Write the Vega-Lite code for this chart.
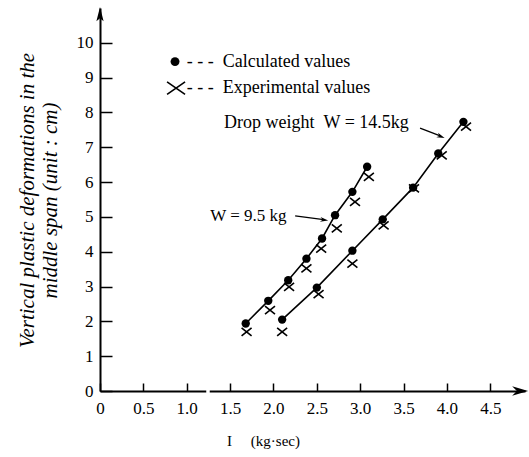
{
  "$schema": "https://vega.github.io/schema/vega-lite/v6.json",
  "width": 425,
  "height": 383,
  "autosize": {"type": "none"},
  "padding": {"left": 100, "top": 8, "right": 4, "bottom": 66},
  "background": "white",
  "config": {"view": {"stroke": null}, "font": "Liberation Serif", "axis": {"labelOverlap": false, "labelFlush": false}},
  "layer": [
    {
      "data": {
        "values": [
          {"I": 1.68, "d": 1.94, "W": "9.5", "type": "Calculated"},
          {"I": 1.94, "d": 2.59, "W": "9.5", "type": "Calculated"},
          {"I": 2.17, "d": 3.18, "W": "9.5", "type": "Calculated"},
          {"I": 2.38, "d": 3.80, "W": "9.5", "type": "Calculated"},
          {"I": 2.56, "d": 4.38, "W": "9.5", "type": "Calculated"},
          {"I": 2.71, "d": 5.05, "W": "9.5", "type": "Calculated"},
          {"I": 2.91, "d": 5.72, "W": "9.5", "type": "Calculated"},
          {"I": 3.08, "d": 6.44, "W": "9.5", "type": "Calculated"},
          {"I": 1.69, "d": 1.70, "W": "9.5", "type": "Experimental"},
          {"I": 1.96, "d": 2.32, "W": "9.5", "type": "Experimental"},
          {"I": 2.18, "d": 2.99, "W": "9.5", "type": "Experimental"},
          {"I": 2.38, "d": 3.52, "W": "9.5", "type": "Experimental"},
          {"I": 2.55, "d": 4.09, "W": "9.5", "type": "Experimental"},
          {"I": 2.73, "d": 4.67, "W": "9.5", "type": "Experimental"},
          {"I": 2.94, "d": 5.43, "W": "9.5", "type": "Experimental"},
          {"I": 3.10, "d": 6.15, "W": "9.5", "type": "Experimental"},
          {"I": 2.10, "d": 2.05, "W": "14.5", "type": "Calculated"},
          {"I": 2.50, "d": 2.97, "W": "14.5", "type": "Calculated"},
          {"I": 2.91, "d": 4.03, "W": "14.5", "type": "Calculated"},
          {"I": 3.26, "d": 4.93, "W": "14.5", "type": "Calculated"},
          {"I": 3.61, "d": 5.84, "W": "14.5", "type": "Calculated"},
          {"I": 3.90, "d": 6.82, "W": "14.5", "type": "Calculated"},
          {"I": 4.19, "d": 7.73, "W": "14.5", "type": "Calculated"},
          {"I": 2.10, "d": 1.70, "W": "14.5", "type": "Experimental"},
          {"I": 2.52, "d": 2.78, "W": "14.5", "type": "Experimental"},
          {"I": 2.91, "d": 3.66, "W": "14.5", "type": "Experimental"},
          {"I": 3.27, "d": 4.76, "W": "14.5", "type": "Experimental"},
          {"I": 3.62, "d": 5.82, "W": "14.5", "type": "Experimental"},
          {"I": 3.94, "d": 6.77, "W": "14.5", "type": "Experimental"},
          {"I": 4.22, "d": 7.59, "W": "14.5", "type": "Experimental"}
        ]
      },
      "encoding": {
        "x": {
          "field": "I", "type": "quantitative",
          "scale": {"domain": [0, 4.9], "nice": false, "zero": false},
          "axis": {
            "values": [0, 0.5, 1, 1.5, 2, 2.5, 3, 3.5, 4, 4.5],
            "labelExpr": "datum.value === 0 ? '0' : format(datum.value, '.1f')",
            "grid": false, "domainColor": "black", "domainWidth": 2,
            "ticks": true, "tickColor": "black", "tickWidth": 1.5, "tickSize": -8,
            "labelPadding": 17, "labelFontSize": 17, "labelFont": "Liberation Serif",
            "labelColor": "black", "labelFlush": false, "labelOverlap": false,
            "title": "I\u00a0\u00a0\u00a0\u00a0\u00a0(kg·sec)", "titleFont": "Liberation Serif", "titleFontSize": 15,
            "titleFontWeight": "normal", "titleColor": "black",
            "titleX": 163, "titleY": 49, "titleBaseline": "middle", "titleAlign": "center"
          }
        },
        "y": {
          "field": "d", "type": "quantitative",
          "scale": {"domain": [0, 11], "nice": false, "zero": false},
          "axis": {
            "values": [0, 1, 2, 3, 4, 5, 6, 7, 8, 9, 10],
            "tickCount": 11,
            "grid": false, "domainColor": "black", "domainWidth": 2,
            "ticks": true, "tickColor": "black", "tickWidth": 1.5, "tickSize": -12,
            "labelPadding": 19, "labelFontSize": 17, "labelFont": "Liberation Serif",
            "labelColor": "black", "labelFlush": false, "labelOverlap": false,
            "title": ["Vertical plastic deformations in the", "middle span (unit : cm)"],
            "titleFont": "Liberation Serif", "titleFontSize": 21, "titleFontStyle": "italic",
            "titleFontWeight": "normal", "titleColor": "black", "titleLineHeight": 23,
            "titleX": -73, "titleY": 192, "titleAngle": -90, "titleBaseline": "middle", "titleAlign": "center"
          }
        }
      },
      "layer": [
        {
          "mark": {"type": "line", "color": "black", "strokeWidth": 1.6},
          "transform": [{"filter": "datum.type === 'Calculated'"}],
          "encoding": {"detail": {"field": "W"}}
        },
        {
          "mark": {"type": "point", "shape": "circle", "filled": true, "fill": "black", "strokeWidth": 0, "size": 70, "opacity": 1},
          "transform": [{"filter": "datum.type === 'Calculated'"}]
        },
        {
          "mark": {"type": "point", "shape": "M-1,-0.8L1,0.8M1,-0.8L-1,0.8", "filled": false, "stroke": "black", "strokeWidth": 1.6, "size": 100, "opacity": 1},
          "transform": [{"filter": "datum.type === 'Experimental'"}]
        }
      ]
    },
    {
      "data": {"values": [{}]},
      "layer": [
        {
          "mark": {"type": "rule", "color": "white", "strokeWidth": 5},
          "encoding": {"x": {"datum": 1.225}, "x2": {"datum": 1.265}, "y": {"datum": 0}}
        },
        {
          "mark": {"type": "point", "shape": "M0,-1L0.45,0.8L0,0.4L-0.45,0.8Z", "filled": true, "fill": "black", "strokeWidth": 0, "size": 256, "opacity": 1},
          "encoding": {"x": {"datum": 0}, "y": {"datum": 10.8}}
        },
        {
          "mark": {"type": "point", "shape": "M1,0L-1,-0.6L-0.4,0L-1,0.6Z", "filled": true, "fill": "black", "strokeWidth": 0, "size": 256, "opacity": 1},
          "encoding": {"x": {"datum": 4.844}, "y": {"datum": 0}}
        },
        {
          "mark": {"type": "point", "shape": "circle", "filled": true, "fill": "black", "strokeWidth": 0, "size": 80, "opacity": 1},
          "encoding": {"x": {"datum": 0.865}, "y": {"datum": 9.46}}
        },
        {
          "mark": {"type": "point", "shape": "M-1,-0.7L1,0.7M1,-0.7L-1,0.7", "filled": false, "stroke": "black", "strokeWidth": 1.6, "size": 324, "opacity": 1},
          "encoding": {"x": {"datum": 0.877}, "y": {"datum": 8.70}}
        },
        {
          "mark": {"type": "text", "text": "- - -", "font": "Liberation Serif", "fontSize": 18, "align": "left", "baseline": "middle", "fill": "black"},
          "encoding": {"x": {"datum": 1.0}, "y": {"datum": 9.46}}
        },
        {
          "mark": {"type": "text", "text": "- - -", "font": "Liberation Serif", "fontSize": 18, "align": "left", "baseline": "middle", "fill": "black"},
          "encoding": {"x": {"datum": 1.0}, "y": {"datum": 8.70}}
        },
        {
          "mark": {"type": "text", "text": "Calculated values", "font": "Liberation Serif", "fontSize": 18, "align": "left", "baseline": "middle", "fill": "black"},
          "encoding": {"x": {"datum": 1.415}, "y": {"datum": 9.46}}
        },
        {
          "mark": {"type": "text", "text": "Experimental values", "font": "Liberation Serif", "fontSize": 18, "align": "left", "baseline": "middle", "fill": "black"},
          "encoding": {"x": {"datum": 1.415}, "y": {"datum": 8.70}}
        },
        {
          "mark": {"type": "text", "text": "Drop weight\u00a0\u00a0W = 14.5kg", "font": "Liberation Serif", "fontSize": 18, "align": "left", "baseline": "middle", "fill": "black"},
          "encoding": {"x": {"datum": 1.43}, "y": {"datum": 7.70}}
        },
        {
          "mark": {"type": "text", "text": "W = 9.5 kg", "font": "Liberation Serif", "fontSize": 17, "align": "left", "baseline": "middle", "fill": "black"},
          "encoding": {"x": {"datum": 1.27}, "y": {"datum": 5.03}}
        },
        {
          "mark": {"type": "rule", "color": "black", "strokeWidth": 1.3},
          "encoding": {"x": {"datum": 3.69}, "y": {"datum": 7.55}, "x2": {"datum": 3.93}, "y2": {"datum": 7.32}}
        },
        {
          "mark": {"type": "point", "shape": "M1,0L-1,-0.6L-0.4,0L-1,0.6Z", "filled": true, "fill": "black", "strokeWidth": 0, "size": 64, "opacity": 1, "angle": 21},
          "encoding": {"x": {"datum": 3.93}, "y": {"datum": 7.31}}
        },
        {
          "mark": {"type": "rule", "color": "black", "strokeWidth": 1.3},
          "encoding": {"x": {"datum": 2.25}, "y": {"datum": 5.03}, "x2": {"datum": 2.58}, "y2": {"datum": 4.92}}
        },
        {
          "mark": {"type": "point", "shape": "M1,0L-1,-0.6L-0.4,0L-1,0.6Z", "filled": true, "fill": "black", "strokeWidth": 0, "size": 64, "opacity": 1, "angle": 8},
          "encoding": {"x": {"datum": 2.585}, "y": {"datum": 4.915}}
        }
      ]
    }
  ]
}
